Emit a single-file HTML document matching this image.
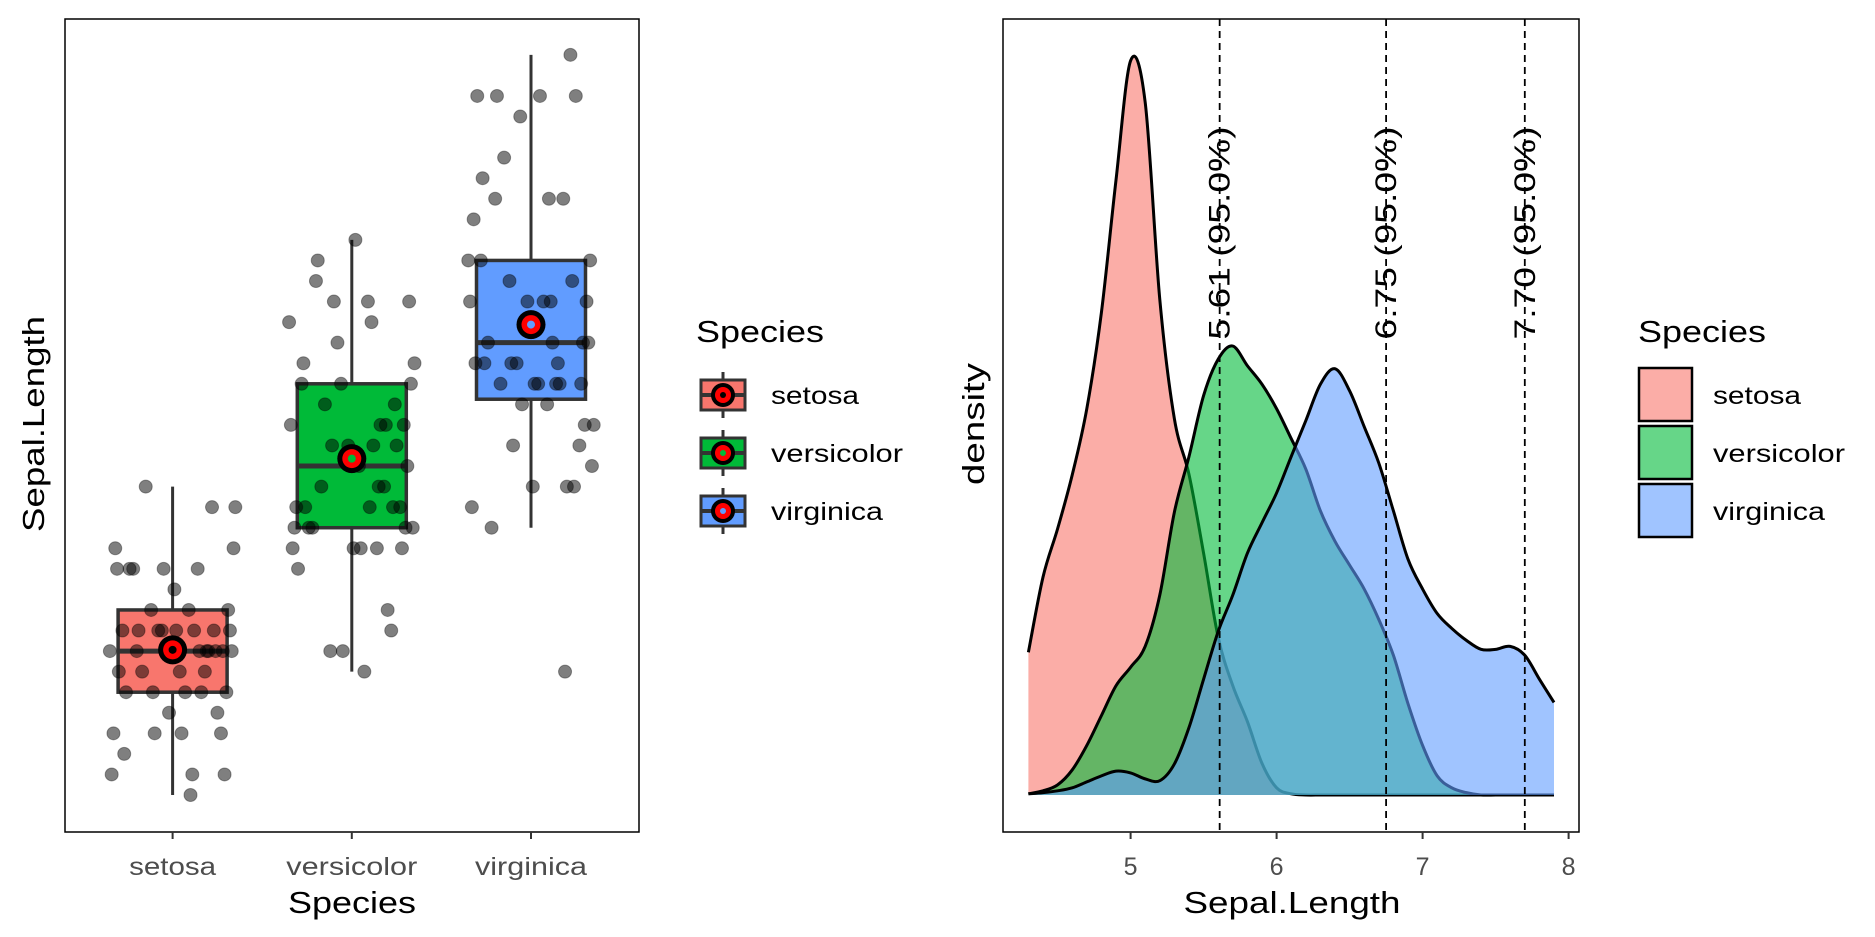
<!DOCTYPE html>
<html><head><meta charset="utf-8"><style>
body{margin:0;background:#fff}
svg{display:block;font-family:"Liberation Sans",sans-serif}
</style></head><body>
<svg id="chart" width="1875" height="937" xmlns="http://www.w3.org/2000/svg">
<rect x="0" y="0" width="1875" height="937" fill="#fff"/>
<g id="left"></g>
<g id="right"></g>
</svg>
<script>
const species = ["setosa","versicolor","virginica"];
const colors = ["#F8766D","#00BA38","#619CFF"];
const setosaVals = [5.1,4.9,4.7,4.6,5.0,5.4,4.6,5.0,4.4,4.9,5.4,4.8,4.8,4.3,5.8,5.7,5.4,5.1,5.7,5.1,5.4,5.1,4.6,5.1,4.8,5.0,5.0,5.2,5.2,4.7,4.8,5.4,5.2,5.5,4.9,5.0,5.5,4.9,4.4,5.1,5.0,4.5,4.4,5.0,5.1,4.8,5.1,4.6,5.3,5.0];
const versicolorVals = [7.0,6.4,6.9,5.5,6.5,5.7,6.3,4.9,6.6,5.2,5.0,5.9,6.0,6.1,5.6,6.7,5.6,5.8,6.2,5.6,5.9,6.1,6.3,6.1,6.4,6.6,6.8,6.7,6.0,5.7,5.5,5.5,5.8,6.0,5.4,6.0,6.7,6.3,5.6,5.5,5.5,6.1,5.8,5.0,5.6,5.7,5.7,6.2,5.1,5.7];
const virginicaVals = [6.3,5.8,7.1,6.3,6.5,7.6,4.9,7.3,6.7,7.2,6.5,6.4,6.8,5.7,5.8,6.4,6.5,7.7,7.7,6.0,6.9,5.6,7.7,6.3,6.7,7.2,6.2,6.1,6.4,7.2,7.4,7.9,6.4,6.3,6.1,7.7,6.3,6.4,6.0,6.9,6.7,6.9,5.8,6.8,6.7,6.7,6.3,6.5,6.2,5.9];
const jitter = [0.12,-0.3,0.25,-0.1,0.33,-0.22,0.05,0.28,-0.34,0.18,-0.05,0.3,-0.26,0.1,-0.15,0.22,-0.31,0.02,0.35,-0.19,0.14,-0.08,0.27,-0.28,0.07,-0.35,0.2,-0.12,0.31,-0.02,0.16,-0.24,0.09,0.34,-0.17,0.24,-0.32,0.04,0.29,-0.06,0.19,-0.27,0.11,-0.2,0.32,-0.11,0.23,-0.33,0.01,0.15];
const q1 = [4.8,5.6,6.225];
const medians = [5.0,5.9,6.5];
const q3 = [5.2,6.3,6.9];
const whiskLo = [4.3,4.9,5.6];
const whiskHi = [5.8,7.0,7.9];
const means = [5.006,5.936,6.588];

const densX = [4.3,4.4,4.5,4.6,4.7,4.8,4.9,5.0,5.1,5.2,5.3,5.4,5.5,5.6,5.7,5.8,5.9,6.0,6.1,6.2,6.3,6.4,6.5,6.6,6.7,6.8,6.9,7.0,7.1,7.2,7.3,7.4,7.5,7.6,7.7,7.8,7.9];
const densSetosa = [0.239,0.365,0.446,0.536,0.647,0.808,1.03,1.23,1.16,0.83,0.63,0.537,0.405,0.264,0.183,0.123,0.053,0.012,0.002,0,0,0,0,0,0,0,0,0,0,0,0,0,0,0,0,0,0];
const densVersicolor = [0.002,0.007,0.017,0.042,0.083,0.133,0.183,0.214,0.249,0.335,0.474,0.567,0.669,0.73,0.752,0.719,0.688,0.647,0.597,0.546,0.476,0.425,0.385,0.345,0.294,0.234,0.153,0.083,0.032,0.012,0.004,0,0,0,0,0,0];
const densVirginica = [0.002,0.004,0.007,0.012,0.022,0.032,0.04,0.037,0.027,0.024,0.052,0.113,0.194,0.274,0.335,0.405,0.456,0.506,0.567,0.627,0.688,0.714,0.677,0.617,0.556,0.476,0.395,0.345,0.304,0.279,0.259,0.244,0.244,0.249,0.234,0.194,0.155];
const quantiles = [5.61,6.75,7.70];
const quantLabels = ["5.61 (95.0%)","6.75 (95.0%)","7.70 (95.0%)"];
const xTicks = [5,6,7,8];

const NS="http://www.w3.org/2000/svg";
function mk(parent,tag,attrs){const e=document.createElementNS(NS,tag);for(const k in attrs)e.setAttribute(k,attrs[k]);parent.appendChild(e);return e;}

// ---------- LEFT ----------
const L=document.getElementById('left');
const lx0=65,lx1=639,ly0=19,ly1=832;
const catX=i=>172.6+i*179.2;
const yL=v=>795-(v-4.3)*205.6;
const bw=109;
const allVals=[setosaVals,versicolorVals,virginicaVals];
species.forEach((s,i)=>{
  const cx=catX(i);
  const w=mk(L,'line',{x1:cx,x2:cx,y1:yL(whiskLo[i]),y2:yL(whiskHi[i]),stroke:'#333',"stroke-width":3});
  
  
  const b=mk(L,'rect',{x:cx-bw/2,y:yL(q3[i]),width:bw,height:yL(q1[i])-yL(q3[i]),fill:colors[i],stroke:'#333',"stroke-width":3.5});
  
  
  const m=mk(L,'line',{x1:cx-bw/2,x2:cx+bw/2,y1:yL(medians[i]),y2:yL(medians[i]),stroke:'#333',"stroke-width":5});
  
  
});
species.forEach((s,i)=>{
  allVals[i].forEach((v,j)=>{
    const p=mk(L,'circle',{cx:catX(i)+jitter[(j+i*17)%50]*179.2,cy:yL(v),r:6.5,fill:'rgba(0,0,0,0.5)',stroke:'rgba(0,0,0,0.35)',"stroke-width":1});
    
    
  });
});
species.forEach((s,i)=>{
  const cx=catX(i),cy=yL(means[i]);
  const g=mk(L,'g',{});
  
  
  mk(g,'circle',{cx:cx,cy:cy,r:14.5,fill:'#000'});
  mk(g,'circle',{cx:cx,cy:cy,r:9.5,fill:'#f00'});
  mk(g,'circle',{cx:cx,cy:cy,r:4,fill:i==0?'#000':colors[i]});
});
let fr=mk(L,'rect',{x:lx0,y:ly0,width:lx1-lx0,height:ly1-ly0,fill:'none',stroke:'#000',"stroke-width":1.5});


const catLabelW=[87,131,112];
species.forEach((s,i)=>{
  const t=mk(L,'line',{x1:catX(i),x2:catX(i),y1:ly1,y2:ly1+7,stroke:'#333',"stroke-width":2});
  
  
  const tl=mk(L,'text',{x:catX(i),y:875,"text-anchor":'middle',"font-size":25,fill:'#4d4d4d',textLength:catLabelW[i],lengthAdjust:'spacingAndGlyphs'});
  tl.textContent=s;
  
  
});
let t=mk(L,'text',{x:352,y:913,"text-anchor":'middle',"font-size":31,fill:'#000',textLength:128,lengthAdjust:'spacingAndGlyphs'});t.textContent='Species';


t=mk(L,'text',{x:0,y:0,transform:'translate(44,424) rotate(-90)',"text-anchor":'middle',"font-size":31,fill:'#000',textLength:216,lengthAdjust:'spacingAndGlyphs'});t.textContent='Sepal.Length';


// left legend
t=mk(L,'text',{x:696,y:342,"font-size":31,fill:'#000',textLength:128,lengthAdjust:'spacingAndGlyphs'});t.textContent='Species';


const legW=[88,132,112];
species.forEach((s,i)=>{
  const cy=395+i*58;
  const g=mk(L,'g',{});
  
  
  mk(g,'line',{x1:723,x2:723,y1:cy-23,y2:cy+23,stroke:'#333',"stroke-width":3});
  mk(g,'rect',{x:701,y:cy-15,width:44,height:30,fill:colors[i],stroke:'#333',"stroke-width":3});
  mk(g,'line',{x1:701,x2:745,y1:cy,y2:cy,stroke:'#333',"stroke-width":4});
  mk(g,'circle',{cx:723,cy:cy,r:12,fill:'#000'});
  mk(g,'circle',{cx:723,cy:cy,r:8,fill:'#f00'});
  mk(g,'circle',{cx:723,cy:cy,r:3,fill:i==0?'#000':colors[i]});
  const lt=mk(g,'text',{x:771,y:cy+9,"font-size":25,fill:'#000',textLength:legW[i],lengthAdjust:'spacingAndGlyphs'});lt.textContent=s;
});

// ---------- RIGHT ----------
const R=document.getElementById('right');
const rx0=1003,rx1=1579,ry0=19,ry1=832;
const xR=v=>1130.6+(v-5)*146;
const yR=d=>795-d*597;
function curvePath(xs,ys){
  const P=xs.map((x,i)=>[xR(x),yR(ys[i])]);
  let d='M'+P[0][0]+','+P[0][1];
  for(let i=0;i<P.length-1;i++){
    const p0=P[Math.max(0,i-1)],p1=P[i],p2=P[i+1],p3=P[Math.min(P.length-1,i+2)];
    const c1=[p1[0]+(p2[0]-p0[0])/6,p1[1]+(p2[1]-p0[1])/6];
    const c2=[p2[0]-(p3[0]-p1[0])/6,p2[1]-(p3[1]-p1[1])/6];
    d+=' C'+c1[0]+','+c1[1]+' '+c2[0]+','+c2[1]+' '+p2[0]+','+p2[1];
  }
  return d;
}
const dens=[densSetosa,densVersicolor,densVirginica];
species.forEach((s,i)=>{
  const c=curvePath(densX,dens[i]);
  const area=mk(R,'path',{d:c+' L'+xR(densX[densX.length-1])+','+yR(0)+' L'+xR(densX[0])+','+yR(0)+' Z',fill:colors[i],"fill-opacity":0.6,stroke:'none'});
  
  
  const ln=mk(R,'path',{d:c,fill:'none',stroke:'#000',"stroke-width":3});
  
  
});
quantiles.forEach((q,i)=>{
  const l=mk(R,'line',{x1:xR(q),x2:xR(q),y1:ry0,y2:ry1,stroke:'#000',"stroke-width":1.8,"stroke-dasharray":'7,5'});
  
  
  const tx=mk(R,'text',{x:0,y:0,transform:'translate('+(xR(q)+10)+',233) rotate(-90)',"text-anchor":'middle',"font-size":30,fill:'#000',textLength:213,lengthAdjust:'spacingAndGlyphs'});
  tx.textContent=quantLabels[i];
  
  
});
fr=mk(R,'rect',{x:rx0,y:ry0,width:rx1-rx0,height:ry1-ry0,fill:'none',stroke:'#000',"stroke-width":1.5});


xTicks.forEach(v=>{
  const tk=mk(R,'line',{x1:xR(v),x2:xR(v),y1:ry1,y2:ry1+7,stroke:'#333',"stroke-width":2});
  
  
  const tl=mk(R,'text',{x:xR(v),y:875,"text-anchor":'middle',"font-size":25,fill:'#4d4d4d'});
  tl.textContent=v;
  
  
});
t=mk(R,'text',{x:1292,y:913,"text-anchor":'middle',"font-size":31,fill:'#000',textLength:217,lengthAdjust:'spacingAndGlyphs'});t.textContent='Sepal.Length';


t=mk(R,'text',{x:0,y:0,transform:'translate(984,424) rotate(-90)',"text-anchor":'middle',"font-size":31,fill:'#000',textLength:122,lengthAdjust:'spacingAndGlyphs'});t.textContent='density';


t=mk(R,'text',{x:1638,y:342,"font-size":31,fill:'#000',textLength:128,lengthAdjust:'spacingAndGlyphs'});t.textContent='Species';


species.forEach((s,i)=>{
  const top=368+i*58;
  const g=mk(R,'g',{});
  
  
  mk(g,'rect',{x:1639,y:top,width:53,height:53,fill:colors[i],"fill-opacity":0.6,stroke:'#000',"stroke-width":2.5});
  const lt=mk(g,'text',{x:1713,y:top+36,"font-size":25,fill:'#000',textLength:legW[i],lengthAdjust:'spacingAndGlyphs'});lt.textContent=s;
});
</script>
</body></html>
